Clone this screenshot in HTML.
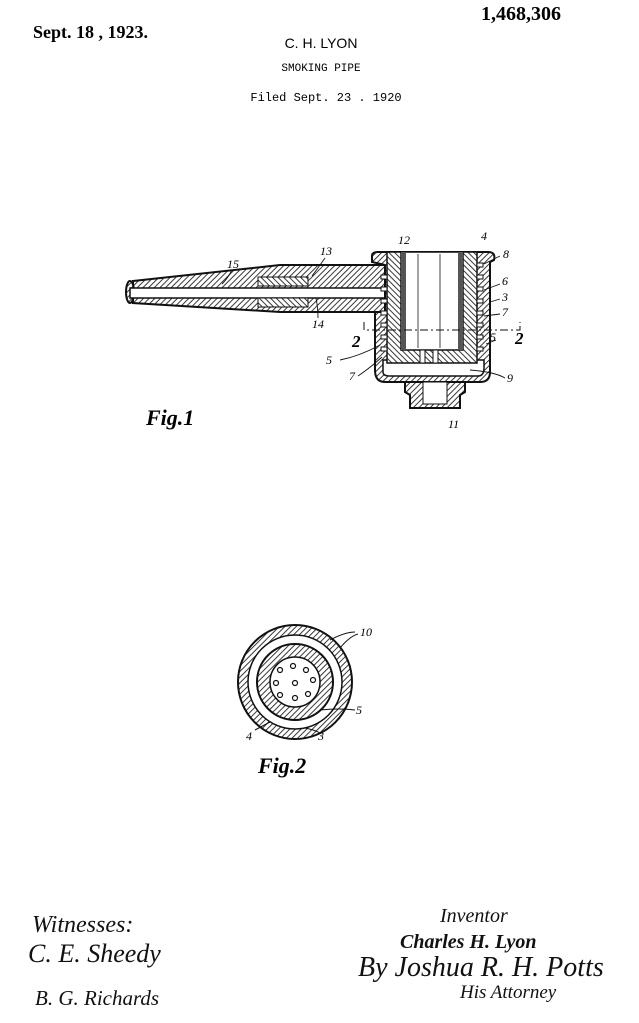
<!DOCTYPE html>
<html><head><meta charset="utf-8"><style>
html,body{margin:0;padding:0;background:#fff}
svg{display:block}
.h{font-family:"Liberation Serif",serif;font-weight:bold}
.m{font-family:"Liberation Mono",monospace}
.s{font-family:"Liberation Sans",sans-serif}
.i{font-family:"Liberation Serif",serif;font-style:italic}
.l{font-family:"Liberation Serif",serif;font-style:italic;font-size:12px}
</style></head><body>
<svg width="639" height="1023" viewBox="0 0 639 1023" xmlns="http://www.w3.org/2000/svg">
<defs>
<pattern id="hx" width="4" height="4" patternUnits="userSpaceOnUse" patternTransform="rotate(45)">
<rect width="4" height="4" fill="#fff"/><line x1="0" y1="0" x2="0" y2="4" stroke="#222" stroke-width="1.8"/></pattern>
<pattern id="hy" width="4" height="4" patternUnits="userSpaceOnUse" patternTransform="rotate(-45)">
<rect width="4" height="4" fill="#fff"/><line x1="0" y1="0" x2="0" y2="4" stroke="#222" stroke-width="1.8"/></pattern>
</defs>
<rect width="639" height="1023" fill="#fff"/>
<text x="33" y="38" class="h" font-size="18">Sept. 18 , 1923.</text>
<text x="481" y="20" class="h" font-size="20">1,468,306</text>
<text x="321" y="48" class="s" font-size="14" text-anchor="middle">C. H. LYON</text>
<text x="321" y="71" class="m" font-size="11" text-anchor="middle">SMOKING PIPE</text>
<text x="326" y="101" class="m" font-size="12" text-anchor="middle">Filed Sept. 23 . 1920</text>

<!-- Fig 1 stem -->
<path d="M133,281 L280,265 L385,265 L385,312 L280,312 L133,303 Z" fill="url(#hx)" stroke="#111" stroke-width="2"/>
<ellipse cx="130" cy="292" rx="4" ry="11" fill="url(#hx)" stroke="#111" stroke-width="2"/>
<rect x="130" y="288" width="255" height="10" fill="#fff" stroke="#111" stroke-width="1.5"/>
<rect x="258" y="277" width="50" height="9" fill="url(#hy)" stroke="#111" stroke-width="1"/>
<rect x="258" y="298" width="50" height="9" fill="url(#hy)" stroke="#111" stroke-width="1"/>
<!-- bowl outer shell -->
<path d="M372,256 Q372,252 378,252 L488,252 Q496,252 494,260 L490,262 L490,372 Q490,382 480,382 L385,382 Q375,382 375,370 L375,312 L385,312 L385,265 L372,262 Z" fill="url(#hx)" stroke="#111" stroke-width="2"/>
<path d="M383,360 L383,372 Q383,376 390,376 L478,376 Q484,376 484,368 L484,360 Z" fill="#fff" stroke="#111" stroke-width="1.5"/>
<!-- inner bowl -->
<path d="M387,252 L477,252 L477,363 L387,363 Z" fill="url(#hy)" stroke="#111" stroke-width="1.5"/>
<rect x="401" y="252" width="62" height="98" fill="#fff" stroke="#111" stroke-width="1.5"/>
<rect x="401" y="252" width="5" height="98" fill="#555"/>
<rect x="458" y="252" width="5" height="98" fill="#555"/>
<line x1="418" y1="254" x2="418" y2="348" stroke="#444"/><line x1="440" y1="254" x2="440" y2="348" stroke="#444"/>
<rect x="420" y="350" width="5" height="13" fill="#fff" stroke="#111"/><rect x="433" y="350" width="5" height="13" fill="#fff" stroke="#111"/>
<g fill="#fff" stroke="#111" stroke-width="1">
<rect x="381" y="275" width="6" height="4"/><rect x="381" y="287" width="6" height="4"/><rect x="381" y="299" width="6" height="4"/><rect x="381" y="311" width="6" height="4"/><rect x="381" y="323" width="6" height="4"/><rect x="381" y="335" width="6" height="4"/><rect x="381" y="347" width="6" height="4"/>
<rect x="477" y="263" width="6" height="4"/><rect x="477" y="275" width="6" height="4"/><rect x="477" y="287" width="6" height="4"/><rect x="477" y="299" width="6" height="4"/><rect x="477" y="311" width="6" height="4"/><rect x="477" y="323" width="6" height="4"/><rect x="477" y="335" width="6" height="4"/><rect x="477" y="347" width="6" height="4"/>
</g>
<!-- foot 11 -->
<path d="M405,382 L465,382 L465,392 L460,395 L460,408 L410,408 L410,395 L405,392 Z" fill="url(#hx)" stroke="#111" stroke-width="2"/>
<rect x="423" y="382" width="24" height="22" fill="#fff" stroke="#111"/>
<!-- section line -->
<path d="M364,322 L364,330 L520,330 L520,322" fill="none" stroke="#111" stroke-dasharray="8,3,2,3"/>
<!-- leader lines -->
<g fill="none" stroke="#111" stroke-width="0.9">
<path d="M232,270 Q228,278 222,284"/><path d="M325,258 Q318,268 312,276"/><path d="M318,318 Q318,308 316,298"/>
<path d="M340,360 Q360,356 380,345"/><path d="M358,376 Q370,368 382,357"/>
<path d="M505,378 Q495,372 470,370"/><path d="M500,256 L484,264"/><path d="M500,284 L484,290"/>
<path d="M500,299 L490,302"/><path d="M500,314 L484,316"/><path d="M496,340 L486,344"/>
</g>
<g class="l">
<text x="227" y="268">15</text><text x="320" y="255">13</text><text x="312" y="328">14</text>
<text x="398" y="244">12</text><text x="481" y="240">4</text><text x="503" y="258">8</text>
<text x="502" y="285">6</text><text x="502" y="301">3</text><text x="502" y="316">7</text>
<text x="490" y="341">5</text><text x="326" y="364">5</text><text x="349" y="380">7</text>
<text x="507" y="382">9</text><text x="448" y="428">11</text>
</g>
<text x="352" y="347" class="i" font-size="17" font-weight="bold">2</text>
<text x="515" y="344" class="i" font-size="17" font-weight="bold">2</text>
<text x="146" y="425" class="i" font-size="22" font-weight="bold">Fig.1</text>

<!-- Fig 2 -->
<circle cx="295" cy="682" r="57" fill="url(#hx)" stroke="#111" stroke-width="2"/>
<circle cx="295" cy="682" r="47" fill="#fff" stroke="#111" stroke-width="1.5"/>
<circle cx="295" cy="682" r="38" fill="url(#hx)" stroke="#111" stroke-width="2"/>
<circle cx="295" cy="682" r="25" fill="#fff" stroke="#111" stroke-width="1.5"/>
<g fill="#fff" stroke="#111" stroke-width="1.2">
<circle cx="280" cy="670" r="2.5"/><circle cx="293" cy="666" r="2.5"/><circle cx="306" cy="670" r="2.5"/>
<circle cx="276" cy="683" r="2.5"/><circle cx="295" cy="683" r="2.5"/><circle cx="313" cy="680" r="2.5"/>
<circle cx="280" cy="695" r="2.5"/><circle cx="295" cy="698" r="2.5"/><circle cx="308" cy="694" r="2.5"/>
</g>
<path d="M330,640 Q345,632 355,632 M340,648 Q350,636 358,634 M320,710 Q340,708 355,710 M270,722 L255,730 M305,728 Q315,730 320,733" fill="none" stroke="#111"/>
<g class="l"><text x="360" y="636">10</text><text x="356" y="714">5</text><text x="246" y="740">4</text><text x="318" y="740">3</text></g>
<text x="258" y="773" class="i" font-size="22" font-weight="bold">Fig.2</text>

<!-- signatures -->
<g class="i" fill="#111">
<text x="32" y="932" font-size="24">Witnesses:</text>
<text x="28" y="962" font-size="26">C. E. Sheedy</text>
<text x="35" y="1005" font-size="21">B. G. Richards</text>
<text x="440" y="922" font-size="20">Inventor</text>
<text x="400" y="948" font-size="20" font-weight="bold">Charles H. Lyon</text>
<text x="358" y="976" font-size="28">By Joshua R. H. Potts</text>
<text x="460" y="998" font-size="19">His Attorney</text>
</g>
</svg>
</body></html>
